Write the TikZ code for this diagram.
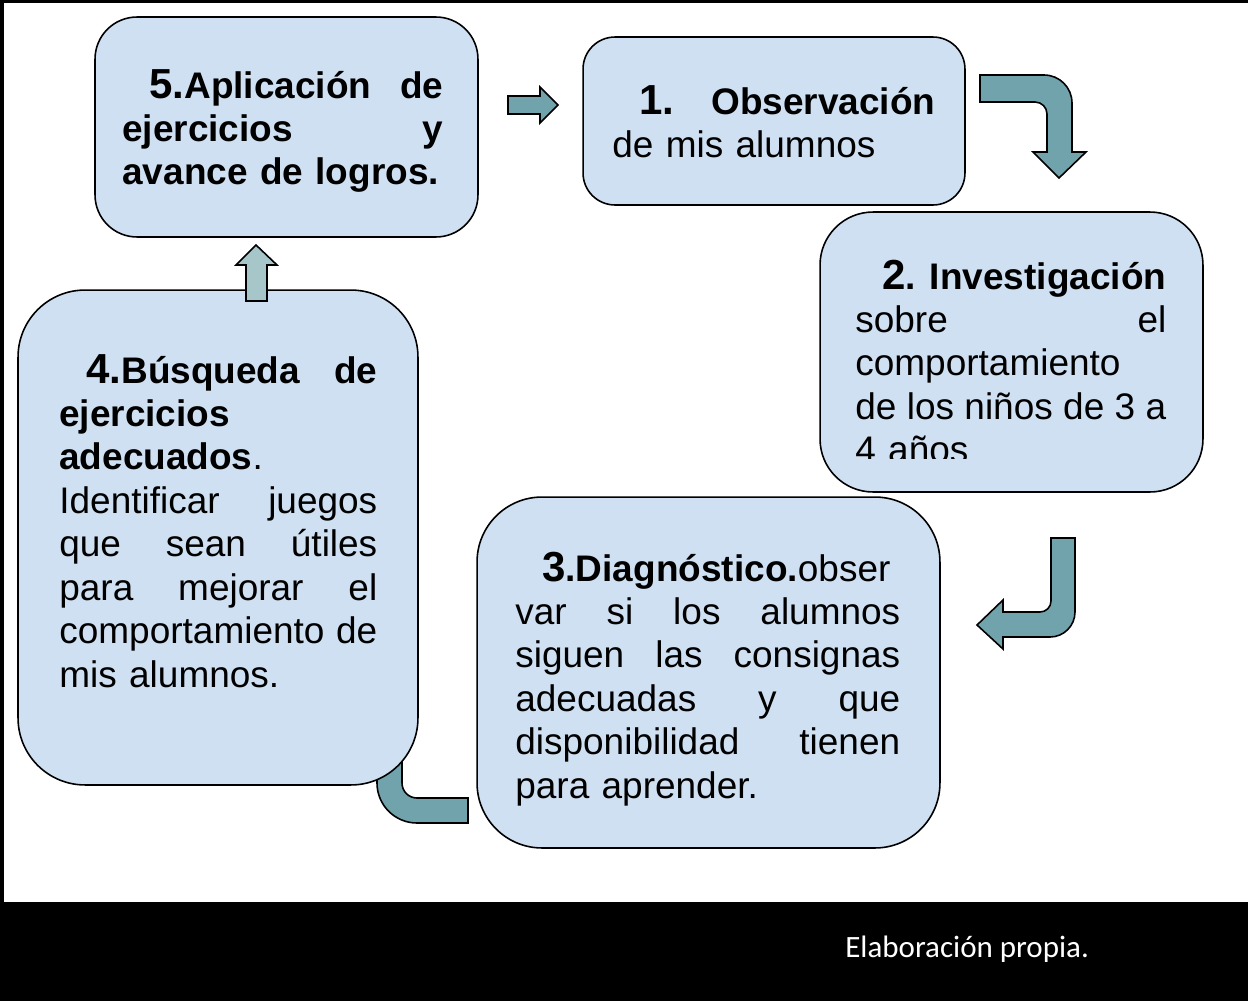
\documentclass[tikz,border=0pt]{standalone}
\usepackage{fontspec}
\setmainfont{Liberation Sans}
\newfontfamily\capfont{Carlito}
\usetikzlibrary{calc}
\definecolor{boxblue}{RGB}{207,224,242}
\definecolor{arrowteal}{RGB}{113,163,173}
\definecolor{arrowpale}{RGB}{166,198,202}
\newcommand{\boxfont}{\fontsize{21.05}{24.75}\selectfont}
\newcommand{\bignum}{\fontsize{23.9}{24.75}\selectfont\bfseries}
\newcommand{\firstind}{\hspace*{0.54cm}}
% one line of a box, stretched to the full width or left as it is
\newcommand{\jline}[1]{\leavevmode\hbox to\hsize{#1}}
\newcommand{\lline}[1]{\leavevmode\hbox{#1}}

\begin{document}
\begin{tikzpicture}[x=0.02cm, y=-0.02cm,
    box/.style={draw=black, line width=0.9pt, fill=boxblue, inner sep=0pt},
    txt/.style={anchor=base west, inner sep=0pt, text width=#1, align=left, font=\boxfont},
    blockarrow/.style={draw=black, line width=0.9pt, fill=arrowteal, line join=miter}]

  \useasboundingbox (0,0) rectangle (1248,1001);
  \fill[white] (0,0) rectangle (1248,1001);
  \fill[black] (0,0) rectangle (1248,3);
  \fill[black] (0,0) rectangle (4,902);
  \fill[black] (0,902) rectangle (1248,1001);

  % arrow 3 -> 4 (runs under box 4)
  \draw[blockarrow] (468,798) -- (417,798) .. controls (408.7,798) and (402,791.3) .. (402,783)
    -- (402,720) -- (414,720) -- (389,695) -- (364,720) -- (377,720) -- (377,783)
    .. controls (377,805.1) and (394.9,823) .. (417,823) -- (468,823) -- cycle;

  \node[box, rounded corners=0.84cm, minimum width=7.66cm, minimum height=4.4cm] (5) at (286.5,127) {};
  \node[box, rounded corners=0.64cm, minimum width=7.64cm, minimum height=3.36cm] (1) at (774,121) {};
  \node[box, rounded corners=1.06cm, minimum width=7.66cm, minimum height=5.6cm] (2) at (1011.5,352) {};
  \node[box, rounded corners=1.3cm, minimum width=9.26cm, minimum height=7.02cm] (3) at (708.5,672.5) {};
  \node[box, rounded corners=1.34cm, minimum width=8cm, minimum height=9.9cm] (4) at (218,537.5) {};

  % arrow 5 -> 1
  \draw[blockarrow] (508,96) -- (540,96) -- (540,87) -- (558,105) -- (540,123) -- (540,114) -- (508,114) -- cycle;
  % arrow 1 -> 2
  \draw[blockarrow] (980,75) -- (1044,75) .. controls (1059.5,75) and (1072,87.5) .. (1072,103)
    -- (1072,152) -- (1086,152) -- (1059,178) -- (1033,152) -- (1047,152) -- (1047,114)
    .. controls (1047,107.4) and (1041.6,102) .. (1035,102) -- (980,102) -- cycle;
  % arrow 2 -> 3
  \draw[blockarrow] (1051,538) -- (1075,538) -- (1075,612) .. controls (1075,625.8) and (1063.8,637) .. (1050,637)
    -- (1003,637) -- (1003,649) -- (977,625) -- (1003,600) -- (1003,612) -- (1040,612)
    .. controls (1046.1,612) and (1051,607.1) .. (1051,601) -- cycle;
  % arrow 4 -> 5
  \draw[blockarrow, fill=arrowpale] (246,301) -- (246,265) -- (236,265) -- (256,245) -- (277,265) -- (267,265) -- (267,301) -- cycle;

  \node[txt=6.42cm] (t5) at (122,98) {\jline{\firstind{\bignum 5.}\textbf{Aplicación}\hfill\textbf{de}}\\
    \jline{\textbf{ejercicios}\hfill\textbf{y}}\\ \lline{\textbf{avance de logros.}}};
  \node[txt=6.46cm] (t1) at (612,114) {\jline{\firstind{\bignum 1.}\hfill\textbf{Observación}}\\
    \lline{de mis alumnos}};
  \begin{scope}
    \clip (822,214) rectangle (1201,458);
    \node[txt=6.22cm] (t2) at (855,289) {\jline{\firstind{\bignum 2}\textbf{.}\hfill\textbf{Investigación}}\\
      \jline{sobre\hfill el}\\ \lline{comportamiento}\\ \jline{de\hfill los\hfill niños\hfill de\hfill 3\hfill a}\\
      \lline{4 años}};
  \end{scope}
  \node[txt=7.7cm] (t3) at (515,581) {\lline{\firstind{\bignum 3}\textbf{.Diagnóstico.}obser}\\
    \jline{var\hfill si\hfill los\hfill alumnos}\\ \jline{siguen\hfill las\hfill consignas}\\
    \jline{adecuadas\hfill y\hfill que}\\ \jline{disponibilidad\hfill tienen}\\ \lline{para aprender.}};
  \node[txt=6.36cm] (t4) at (59,383) {\jline{\firstind{\bignum 4.}\textbf{Búsqueda}\hfill\textbf{de}}\\
    \lline{\textbf{ejercicios}}\\ \lline{\textbf{adecuados}.}\\ \jline{Identificar\hfill juegos}\\
    \jline{que\hfill sean\hfill útiles}\\ \jline{para\hfill mejorar\hfill el}\\
    \jline{comportamiento\hfill de}\\ \lline{mis alumnos.}};

  \node[anchor=base west, inner sep=0pt, text=white, font=\capfont\fontsize{17.64}{20}\selectfont] (src) at (845,957) {Elaboración propia.};
\end{tikzpicture}
\end{document}
